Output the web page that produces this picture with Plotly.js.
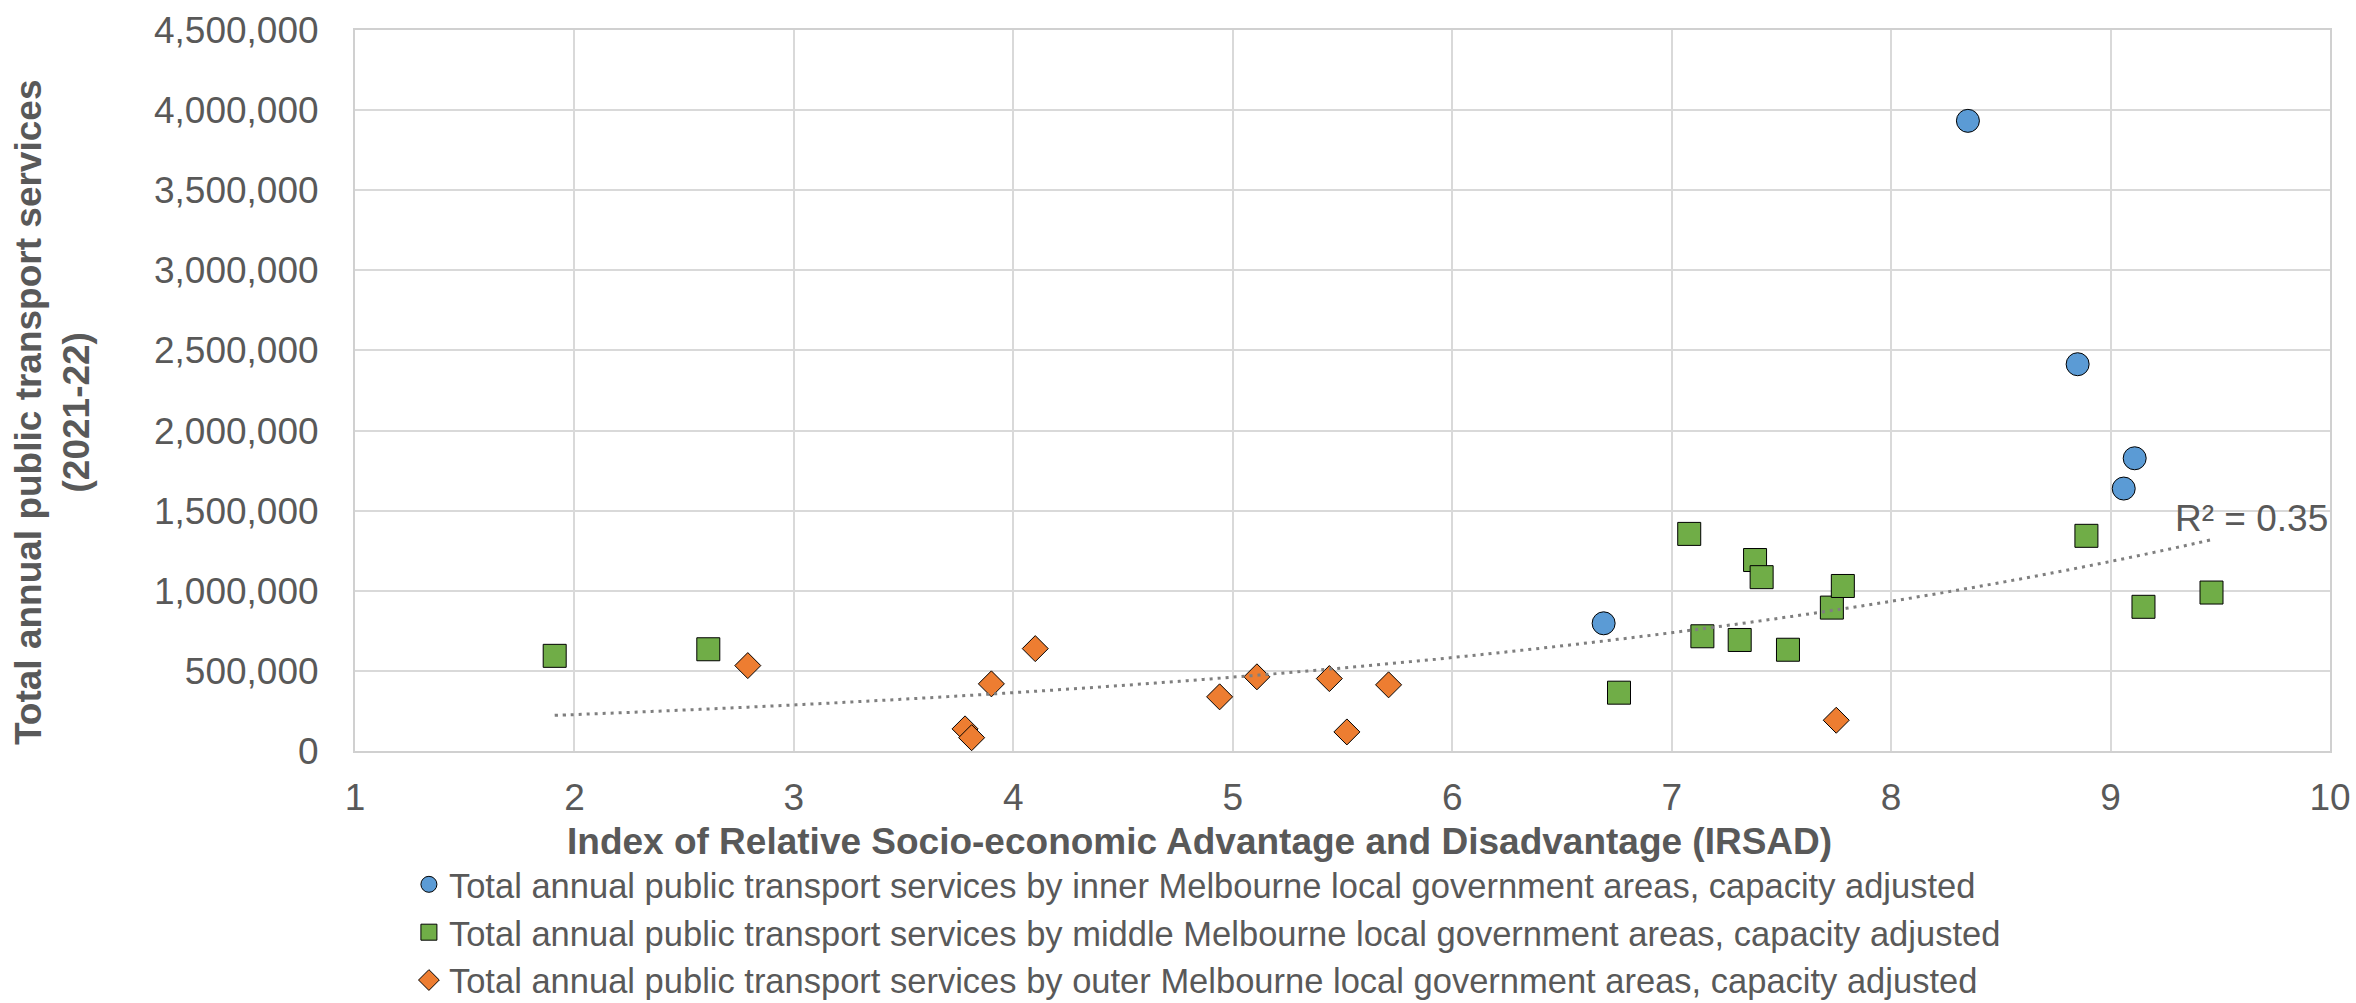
<!DOCTYPE html>
<html>
<head>
<meta charset="utf-8">
<script src="https://cdn.plot.ly/plotly-3.0.1.min.js"></script>
<style>
  html, body { margin: 0; padding: 0; background: #ffffff; }
  #chart { width: 2356px; height: 1003px; }
</style>
</head>
<body>
<div id="chart"></div>
<script>
// IRSAD score vs. total annual public transport services (2021-22), by LGA ring

const innerIrsad    = [6.69, 8.35, 8.85, 9.06, 9.11];
const innerServices = [797000, 3933000, 2414000, 1638000, 1827000];

const middleIrsad    = [1.91, 2.61, 6.76, 7.08, 7.14, 7.31, 7.38, 7.41, 7.53, 7.73, 7.78, 8.89, 9.15, 9.46];
const middleServices = [594000, 635000, 364000, 1355000, 716000, 693000, 1192000, 1085000, 632000, 895000, 1030000, 1343000, 900000, 989000];

const outerIrsad    = [2.79, 3.78, 3.81, 3.90, 4.10, 4.94, 5.11, 5.44, 5.52, 5.71, 7.75];
const outerServices = [533000, 138000, 83000, 419000, 639000, 338000, 463000, 452000, 119000, 413000, 192000];

const seriesNames = [
  'Total annual public transport services by inner Melbourne local government areas, capacity adjusted',
  'Total annual public transport services by middle Melbourne local government areas, capacity adjusted',
  'Total annual public transport services by outer Melbourne local government areas, capacity adjusted'
];

const xAxisTitle = 'Index of Relative Socio-economic Advantage and Disadvantage (IRSAD)';
const yAxisTitleLines = ['Total annual public transport services', '(2021-22)'];

const xTickValues = [1, 2, 3, 4, 5, 6, 7, 8, 9, 10];
const yTickValues = [0, 500000, 1000000, 1500000, 2000000, 2500000, 3000000, 3500000, 4000000, 4500000];

// Exponential trend (least squares on ln y) across all areas
function expFit(xs, ys) {
  const n = xs.length;
  const ly = ys.map(Math.log);
  const mx = xs.reduce((s, v) => s + v, 0) / n;
  const my = ly.reduce((s, v) => s + v, 0) / n;
  let sxy = 0, sxx = 0, syy = 0;
  for (let i = 0; i < n; i++) {
    sxy += (xs[i] - mx) * (ly[i] - my);
    sxx += (xs[i] - mx) * (xs[i] - mx);
    syy += (ly[i] - my) * (ly[i] - my);
  }
  const b = sxy / sxx;
  const a = Math.exp(my - b * mx);
  return { a: a, b: b, r2: (sxy * sxy) / (sxx * syy) };
}

const allX = innerIrsad.concat(middleIrsad, outerIrsad);
const allY = innerServices.concat(middleServices, outerServices);
const fit = expFit(allX, allY);
const xMin = Math.min.apply(null, allX);
const xMax = Math.max.apply(null, allX);
const trendX = [];
const trendY = [];
for (let i = 0; i <= 120; i++) {
  const x = xMin + (xMax - xMin) * i / 120;
  trendX.push(x);
  trendY.push(fit.a * Math.exp(fit.b * x));
}

const FONT = 'Liberation Sans, Arial, sans-serif';
const GREY = '#595959';
const EDGE = { color: '#000000', width: 1 };

const traces = [
  {
    x: innerIrsad, y: innerServices, name: seriesNames[0],
    type: 'scatter', mode: 'markers',
    marker: { symbol: 'circle', size: 23, color: '#5b9bd5', line: EDGE }
  },
  {
    x: middleIrsad, y: middleServices, name: seriesNames[1],
    type: 'scatter', mode: 'markers',
    marker: { symbol: 'square', size: 23, color: '#70ad47', line: EDGE }
  },
  {
    x: outerIrsad, y: outerServices, name: seriesNames[2],
    type: 'scatter', mode: 'markers',
    marker: { symbol: 'diamond', size: 20, color: '#ed7d31', line: EDGE }
  },
  {
    x: trendX, y: trendY, type: 'scatter', mode: 'lines',
    showlegend: false, hoverinfo: 'skip',
    line: { color: '#7f7f7f', width: 3, dash: '3px,5px', shape: 'spline' }
  }
];

const layout = {
  width: 2356,
  height: 1003,
  paper_bgcolor: '#ffffff',
  plot_bgcolor: '#ffffff',
  margin: { l: 355, r: 26, t: 30, b: 252, pad: 0, autoexpand: false },
  font: { family: FONT, size: 37, color: GREY },
  showlegend: true,
  xaxis: {
    range: [1, 10],
    tickvals: xTickValues,
    ticktext: xTickValues.map(String),
    ticks: '',
    ticklabelstandoff: 13,
    tickfont: { family: FONT, size: 37, color: GREY },
    showgrid: true, gridcolor: '#d9d9d9', gridwidth: 2,
    showline: true, linecolor: '#d0d0d0', linewidth: 2, mirror: true,
    zeroline: false, fixedrange: true, automargin: false
  },
  yaxis: {
    range: [0, 4500000],
    tickvals: yTickValues,
    tickformat: ',d',
    ticks: '',
    ticklabelstandoff: 27,
    tickfont: { family: FONT, size: 37, color: GREY },
    showgrid: true, gridcolor: '#d9d9d9', gridwidth: 2,
    showline: true, linecolor: '#d0d0d0', linewidth: 2, mirror: true,
    zeroline: false, fixedrange: true, automargin: false
  },
  legend: {
    x: 0.0273, xanchor: 'left',
    y: -0.1448, yanchor: 'top',
    orientation: 'v',
    bgcolor: 'rgba(0,0,0,0)',
    borderwidth: 0,
    font: { family: FONT, size: 34.5, color: GREY },
    itemclick: false, itemdoubleclick: false
  },
  annotations: [
    {
      text: '<b>' + xAxisTitle + '</b>',
      xref: 'paper', yref: 'paper', x: 0.4278, y: -0.1262,
      xanchor: 'center', yanchor: 'middle', showarrow: false,
      font: { family: FONT, size: 37, color: GREY }
    },
    {
      text: '<b>' + yAxisTitleLines.join('<br>') + '</b>',
      xref: 'paper', yref: 'paper', x: -0.1529, y: 0.4688,
      xanchor: 'center', yanchor: 'middle', textangle: -90, showarrow: false,
      font: { family: FONT, size: 37, color: GREY }
    },
    {
      text: 'R² = ' + fit.r2.toFixed(2),
      xref: 'x', yref: 'y', x: 10, y: 1450000,
      xanchor: 'right', yanchor: 'middle', showarrow: false,
      font: { family: FONT, size: 37, color: GREY }
    }
  ]
};

Plotly.newPlot('chart', traces, layout, { displayModeBar: false, staticPlot: true, responsive: false });
</script>
</body>
</html>
